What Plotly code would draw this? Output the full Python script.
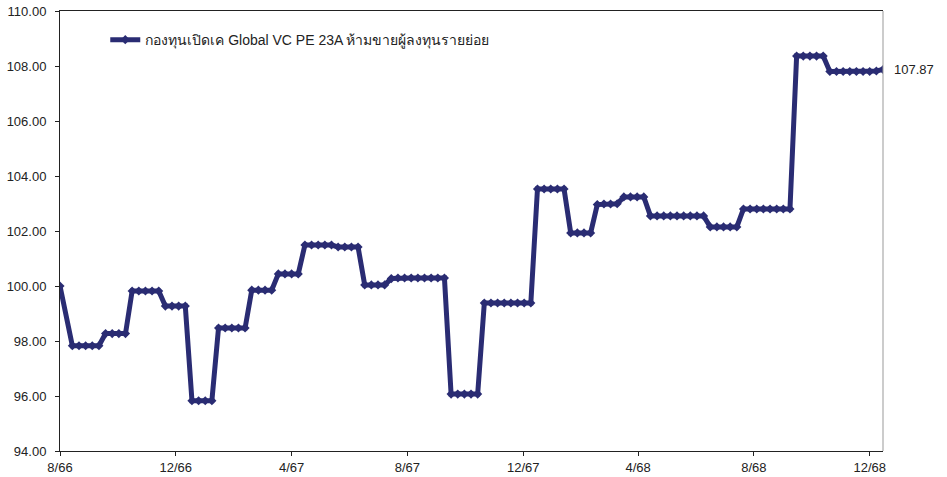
import pandas as pd
import plotly.graph_objects as go

# ---- data ----
launch_date = ["2023-08-01"]
weekly_dates = [d.strftime("%Y-%m-%d") for d in pd.date_range("2023-08-14", "2025-12-15", freq="7D")]
dates = launch_date + weekly_dates

nav = [100.00,
       97.83, 97.83, 97.83, 97.83, 97.83,
       98.27, 98.27, 98.27, 98.27,
       99.82, 99.82, 99.82, 99.82, 99.82,
       99.27, 99.27, 99.27, 99.27,
       95.83, 95.83, 95.83, 95.83,
       98.47, 98.47, 98.47, 98.47, 98.47,
       99.85, 99.85, 99.85, 99.85,
       100.44, 100.44, 100.44, 100.44,
       101.49, 101.49, 101.49, 101.49, 101.49,
       101.42, 101.42, 101.42, 101.42,
       100.04, 100.04, 100.04, 100.04,
       100.27, 100.29, 100.29, 100.29, 100.29, 100.29, 100.29, 100.29, 100.29,
       96.07, 96.07, 96.07, 96.07, 96.07,
       99.38, 99.38, 99.38, 99.38, 99.38, 99.38, 99.38, 99.38,
       103.53, 103.53, 103.53, 103.53, 103.53,
       101.93, 101.93, 101.93, 101.93,
       102.96, 102.98, 102.98, 102.99,
       103.24, 103.24, 103.24, 103.24,
       102.55, 102.55, 102.55, 102.55, 102.55, 102.55, 102.55, 102.55, 102.55,
       102.15, 102.15, 102.15, 102.15, 102.15,
       102.80, 102.80, 102.80, 102.80, 102.80, 102.80, 102.80, 102.80,
       108.36, 108.36, 108.36, 108.36, 108.36,
       107.80, 107.80, 107.80, 107.80, 107.80, 107.80, 107.80, 107.82,
       107.87]

series_name = "กองทุนเปิดเค Global VC PE 23A ห้ามขายผู้ลงทุนรายย่อย"
tick_dates = ["2023-08-01", "2023-12-01", "2024-04-01", "2024-08-01",
              "2024-12-01", "2025-04-01", "2025-08-01", "2025-12-01"]
tick_labels = ["8/66", "12/66", "4/67", "8/67", "12/67", "4/68", "8/68", "12/68"]
y_ticks = [94, 96, 98, 100, 102, 104, 106, 108, 110]

color = "#2A2C73"
font_family = "Liberation Sans, Arial, Noto Sans, sans-serif"

fig = go.Figure()
fig.add_trace(go.Scatter(
    x=dates, y=nav, mode="lines+markers", name=series_name,
    line=dict(color=color, width=5),
    marker=dict(symbol="diamond", size=7, color=color),
))

fig.add_annotation(
    x=dates[-1], y=nav[-1], text=f"{nav[-1]:.2f}", showarrow=False,
    xanchor="left", yanchor="middle", xshift=9,
    font=dict(family=font_family, size=13, color="#222222"),
)

fig.add_shape(type="line", xref="paper", yref="paper", x0=1, x1=1, y0=0, y1=1,
              line=dict(color="#999999", width=1))

fig.update_layout(
    width=947, height=477,
    margin=dict(l=60, r=64, t=11, b=26),
    paper_bgcolor="white", plot_bgcolor="white",
    font=dict(family=font_family, size=13, color="#222222"),
    showlegend=True,
    legend=dict(x=0.055, y=0.934, xanchor="left", yanchor="middle",
                bgcolor="rgba(0,0,0,0)", font=dict(size=14, color="#222222")),
    xaxis=dict(
        type="date", range=["2023-08-01", "2025-12-15"],
        tickvals=tick_dates, ticktext=tick_labels,
        showgrid=False, zeroline=False, automargin=False,
        showline=True, linecolor="#222222", linewidth=1, mirror=True,
        ticks="outside", ticklen=4, tickcolor="#222222",
        tickfont=dict(size=13),
    ),
    yaxis=dict(
        range=[94, 110], tickvals=y_ticks, tickformat=".2f",
        showgrid=False, zeroline=False, automargin=False,
        showline=True, linecolor="#222222", linewidth=1,
        ticks="outside", ticklen=4, tickcolor="#222222",
        ticklabelstandoff=6,
        tickfont=dict(size=13),
    ),
)

fig.write_html("out.html",
               config={"displayModeBar": False},
               post_script="document.body.style.margin='0px';document.body.style.overflow='hidden';")
